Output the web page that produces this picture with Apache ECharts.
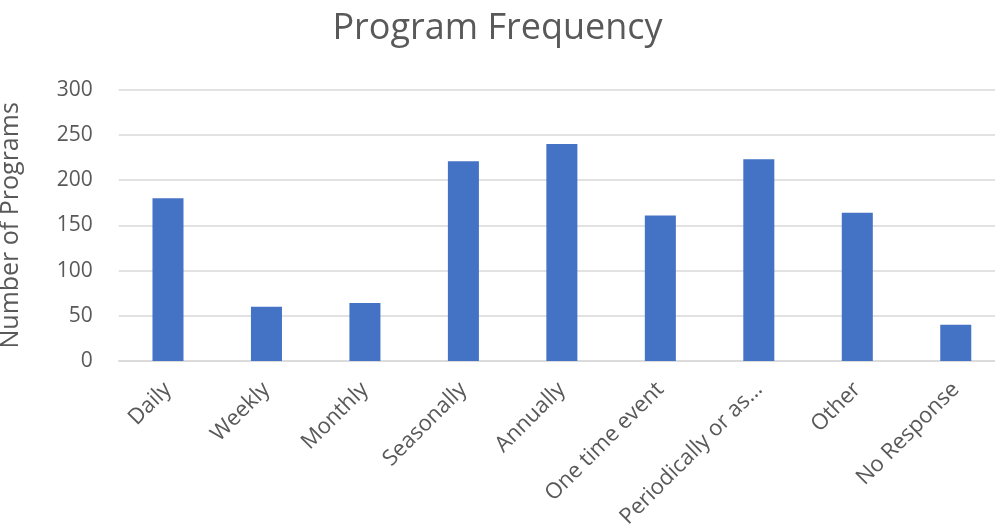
<!DOCTYPE html>
<html>
<head>
<meta charset="utf-8">
<script src="https://cdn.jsdelivr.net/npm/echarts@6/dist/echarts.min.js"></script>
<style>
html,body{margin:0;padding:0;background:#fff;}
#chart{width:995px;height:527px;}
</style>
</head>
<body>
<div id="chart"></div>
<script>
const categories = ["Daily", "Weekly", "Monthly", "Seasonally", "Annually", "One time event", "Periodically or as…", "Other", "No Response"];
const programCounts = [180, 60, 64, 221, 240, 161, 223, 164, 40];
const yTicks = { min: 0, max: 300, interval: 50 };

const chart = echarts.init(document.getElementById('chart'), null, { renderer: 'canvas' });
const fontFamily = '"Open Sans", "Noto Sans", sans-serif';
chart.setOption({
  animation: false,
  backgroundColor: '#ffffff',
  title: {
    text: 'Program Frequency',
    left: 'center',
    top: 6,
    textStyle: { color: '#595959', fontSize: 36, fontWeight: 'normal', fontFamily: fontFamily }
  },
  grid: { left: 118.75, right: -10, top: 89.7, bottom: 166, outerBoundsMode: 'none' },
  xAxis: {
    type: 'category',
    data: categories,
    axisLine: { show: true, lineStyle: { color: '#d9d9d9', width: 1.5 } },
    axisTick: { show: false },
    axisLabel: {
      rotate: 45,
      interval: 0,
      margin: 25,
      color: '#595959',
      fontSize: 22,
      fontFamily: fontFamily
    }
  },
  yAxis: {
    type: 'value',
    min: yTicks.min,
    max: yTicks.max,
    interval: yTicks.interval,
    name: 'Number of Programs',
    nameLocation: 'middle',
    nameGap: 95,
    nameTextStyle: { color: '#595959', fontSize: 25, fontFamily: fontFamily },
    axisLine: { show: false },
    axisTick: { show: false },
    splitLine: { lineStyle: { color: '#d9d9d9', width: 1.5 } },
    axisLabel: { color: '#595959', fontSize: 21, margin: 26, fontFamily: fontFamily }
  },
  series: [{
    type: 'bar',
    data: programCounts,
    barWidth: '31.5%',
    itemStyle: { color: '#4472C4' }
  }]
});
</script>
</body>
</html>
